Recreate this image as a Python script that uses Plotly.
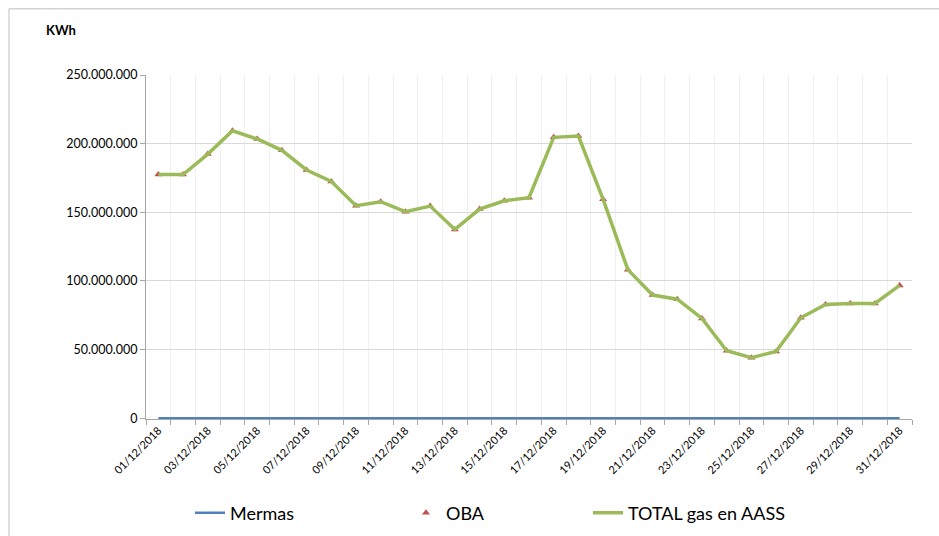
import plotly.graph_objects as go

dates = ["2018-12-%02d" % d for d in range(1, 32)]
total_gas = [177.5, 177.5, 192.4, 209.4, 203.4, 195.1, 180.8, 172.5, 154.8, 157.7,
             150.4, 154.5, 137.5, 152.3, 158.4, 160.6, 204.6, 205.5, 159.4, 108.2,
             89.7, 86.7, 72.7, 49.1, 44.0, 48.6, 73.1, 82.9, 83.6, 83.6, 96.7]
total_gas = [v * 1e6 for v in total_gas]
oba = list(total_gas)
mermas = [0] * 31
y_ticks = [0, 50e6, 100e6, 150e6, 200e6, 250e6]

FONT = "Lato"
BLUE = "#4F81BD"
RED = "#C0504D"
GREEN = "#9BBB59"

Y_LOW = -0.6e6
plot_h = 343 * (250e6 - Y_LOW) / 250e6
bottom = 536 - 75 - plot_h

fig = go.Figure()
fig.add_trace(go.Scatter(x=dates, y=mermas, name="Mermas", mode="lines",
                         line=dict(color=BLUE, width=2.5), legend="legend"))
fig.add_trace(go.Scatter(x=dates, y=oba, name="OBA", mode="markers",
                         marker=dict(symbol="triangle-up", size=7, color=RED),
                         legend="legend2"))
fig.add_trace(go.Scatter(x=dates, y=total_gas, name="TOTAL gas en AASS", mode="lines",
                         line=dict(color=GREEN, width=3.5), legend="legend3"))

leg_common = dict(orientation="h", xref="container", yref="container",
                  y=0.043, yanchor="middle", xanchor="left",
                  font=dict(family=FONT, size=18, color="#000000"),
                  bgcolor="rgba(0,0,0,0)", itemwidth=30)

fig.update_layout(
    width=939, height=536,
    margin=dict(l=146, r=27, t=75, b=bottom),
    paper_bgcolor="white", plot_bgcolor="white",
    separators=",.",
    font=dict(family=FONT, size=12, color="#000000"),
    showlegend=True,
    legend=dict(x=190 / 939, **leg_common),
    legend2=dict(x=406 / 939, **leg_common),
    legend3=dict(x=588 / 939, **leg_common),
    xaxis=dict(
        type="date",
        range=["2018-11-30 12:00", "2018-12-31 12:00"],
        tick0="2018-12-01", dtick=2 * 86400000,
        tickformat="%d/%m/%Y", tickangle=-45,
        tickfont=dict(family=FONT, size=11, color="#000000"),
        ticks="", showgrid=False,
        showline=True, linecolor="#A6A6A6", linewidth=1,
        layer="below traces",
        minor=dict(tick0="2018-11-30 12:00", dtick=86400000, showgrid=True,
                   gridcolor="#F0F0F0", gridwidth=1, ticks="outside",
                   ticklen=5, tickcolor="#A6A6A6"),
        zeroline=False,
    ),
    yaxis=dict(
        range=[Y_LOW, 250e6], tickvals=y_ticks, tickformat=",d",
        tickfont=dict(family=FONT, size=12.5, color="#000000"),
        showgrid=True, gridcolor="#D9D9D9", gridwidth=1,
        showline=True, linecolor="#A6A6A6", linewidth=1,
        ticks="outside", ticklen=5, tickcolor="#A6A6A6",
        zeroline=False, layer="below traces",
    ),
    annotations=[dict(text="<b>KWh</b>", xref="paper", yref="paper",
                      x=(44 - 146) / 766, y=(418 - 30) / 343,
                      xanchor="left", yanchor="middle", showarrow=False,
                      font=dict(family=FONT, size=13, color="#000000"))],
    shapes=[dict(type="rect", xref="paper", yref="paper",
                 x0=(9 - 146) / 766, x1=(960 - 146) / 766,
                 y0=(418 - 560) / 343, y1=(418 - 9) / 343,
                 line=dict(color="#BFBFBF", width=1), layer="below")],
)

fig.write_html("out.html", post_script="document.body.style.margin='0';",
               config={"displayModeBar": False})
